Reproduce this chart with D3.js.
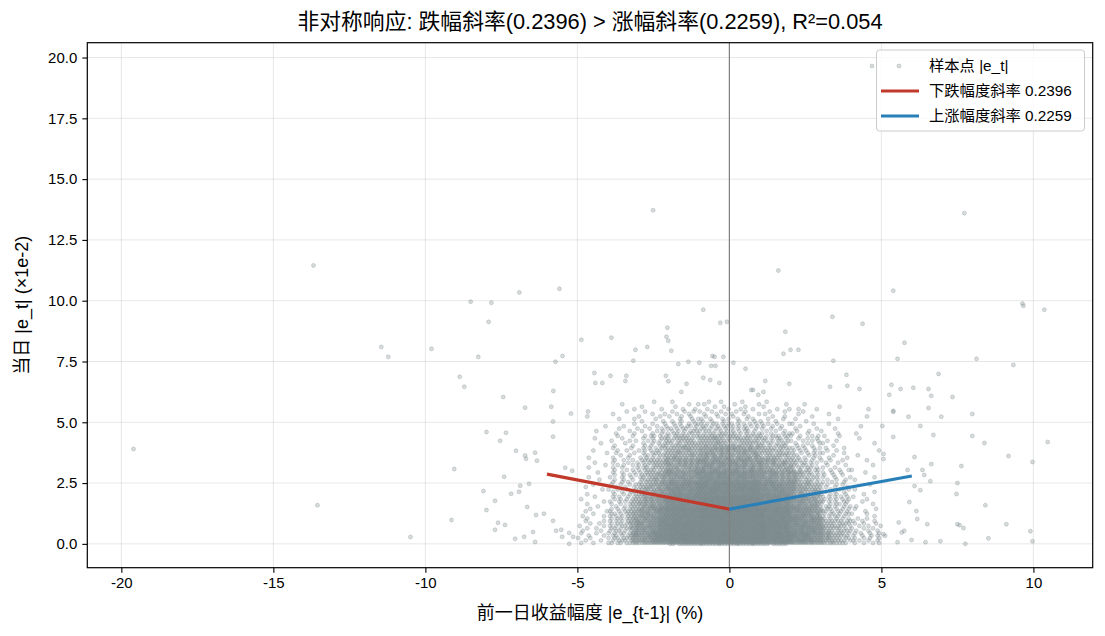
<!DOCTYPE html>
<html><head><meta charset="utf-8">
<script src="https://cdn.jsdelivr.net/npm/d3@7"></script>
<style>
body{margin:0;background:#fff}
svg{display:block}
text{font-family:"Liberation Sans",Arial,"Noto Sans CJK SC",sans-serif;fill:#000}
</style>
</head><body><svg id="c" width="1105" height="636"></svg>
<script>
// ---------- data ----------
const titleText = "非对称响应: 跌幅斜率(0.2396) > 涨幅斜率(0.2259), R²=0.054";
const xLabel = "前一日收益幅度 |e_{t-1}| (%)";
const yLabel = "当日 |e_t| (×1e-2)";
const xTicks = [-20, -15, -10, -5, 0, 5, 10];
const yTicks = [0, 2.5, 5, 7.5, 10, 12.5, 15, 17.5, 20];
const legendLabels = ["样本点 |e_t|", "下跌幅度斜率 0.2396", "上涨幅度斜率 0.2259"];
const downFit = [[-6, 2.87], [0, 1.43]];
const upFit = [[0, 1.43], [6, 2.79]];

// sparse points [x, y]
const outliers = [
[-13.68,11.45],[-8.51,9.96],[-7.83,9.92],[-7.92,9.13],[-11.45,8.10],[-11.22,7.69],[-9.80,8.02],[-8.26,7.69],[-8.87,6.87],[-8.72,6.46],[-7.99,4.60],[-19.6,3.90],[-9.05,3.08],[-8.09,2.17],[-13.55,1.59],[-7.99,1.39],[-9.14,0.98],[-10.49,0.28],
[-6.91,10.34],[-5.59,10.49],[-5.49,7.73],[-5.72,7.49],[-4.87,8.39],[-3.88,8.48],[-3.09,7.98],[-2.70,8.10],[-3.16,7.53],[-2.04,8.89],[-2.07,8.52],[-2.01,8.35],[-1.91,7.94],[-0.86,9.63],[-0.30,9.09],[-0.08,9.13],[-1.68,7.40],[-1.35,7.49],[-0.99,7.45],[-0.56,7.73],[-0.49,7.69],[-0.20,7.69],[-0.60,7.32],[-0.46,7.32],[0.13,7.45],[1.61,11.24],[3.39,9.34],[4.38,9.05],[1.84,8.72],[2.01,7.98],[2.27,7.98],[1.78,7.82],[3.42,7.53],[0.53,7.20],[-4.44,7.03],[-4.41,6.62],[-4.18,6.62],[-3.91,6.91],[-3.39,6.91],[-3.42,6.70],[-2.09,6.91],[-2.01,6.69],[-0.86,6.83],[-0.63,6.74],[-0.33,6.62],[-1.41,6.58],[-1.58,6.25],[-5.79,6.29],[-7.44,6.04],[3.85,6.95],[3.88,6.50],[3.31,6.46],[4.28,6.37],[1.18,6.70],[1.97,6.58],[0.72,6.33],[0.78,6.33],[0.95,6.13],[1.12,6.25],
[5.39,10.41],[9.64,9.88],[9.67,9.79],[10.36,9.63],[5.76,8.27],[5.53,7.61],[8.13,7.61],[9.34,7.36],[6.88,6.99],[5.33,6.54],[5.63,6.37],[6.05,6.42],[6.55,6.37],[6.64,6.09],[5.26,6.13],[7.34,6.04],[5.39,5.47],[5.39,5.43],[5.89,5.23],[6.55,5.59],[6.97,5.23],[7.99,5.34],[5.03,4.85],[6.28,4.85],[5.39,4.40],[6.71,4.48],[7.99,4.44],[8.39,4.15],[10.47,4.19],[9.18,3.61],[9.97,3.37],[6.09,3.57],[6.64,3.28],[7.63,3.20],[6.35,3.04],[6.41,2.83],[6.61,2.58],[7.50,2.50],[7.47,2.05],[6.28,2.21],[6.09,2.38],[5.92,1.72],[8.42,1.59],[6.15,1.35],[6.18,1.02],[6.51,0.81],[7.50,0.81],[7.57,0.77],[7.70,0.65],[9.11,0.81],[9.90,0.52],[8.52,0.23],[9.97,0.11],[7.76,0.0],[6.94,0.11],[6.45,0.07],[5.99,0.16],[5.53,0.07],[5.86,3.04],[5.07,3.70],[5.07,3.49],[5.57,0.88],[5.67,0.47],[5.75,0.54],[5.07,0.40],[5.12,0.33],
[-6.72,5.60],[-5.86,5.64],[-7.35,4.57],[-7.54,4.24],[-7.02,3.83],[-6.72,3.63],[-6.69,3.50],[-6.39,3.75],[-6.33,3.42],[-5.80,5.03],[-5.80,4.41],[-5.40,3.13],[-5.17,3.01],[-5.21,5.36],[-4.65,5.44],[-7.41,2.76],[-6.88,2.39],[-6.59,2.47],[-7.18,2.06],[-6.92,2.14],[-7.71,1.77],[-6.65,1.52],[-6.36,1.19],[-6.10,1.24],[-5.80,0.95],[-7.61,0.87],[-7.38,0.78],[-7.71,0.58],[-7.05,0.21],[-6.75,0.29],[-6.46,0.49],[-6.39,0.08],[-5.70,0.54],[-5.53,0.58],[-5.50,0.29],[-5.27,0.0],[-5.27,0.45],[-5.14,0.29],
[4.69,19.65],[-2.51,13.72],[7.73,13.60]
];

// dense core, read as point counts per 0.1 x 0.1 cell.
// Rows from top (y≈5.8) to bottom (y≈0); 10 blocks per row, block k covers x from -5+k to -4+k.
const coreGrid = [
"0000000000 0000000000 0000010000 0100000000 0001000100 0000100000 0010000000 0000000000 0000000000 0000000000",
"0000000000 0000100000 0000000000 0000001001 0100000000 0100000001 0000000010 0000100000 0000000000 0000000000",
"0000000000 0000000000 0100000000 0010000000 0000010010 0000010000 0100000000 0000000000 0000001000 0000000000",
"0000000000 0000000010 0000000100 0000100010 0010000001 0001000100 0000010001 0010000010 0000000000 0000010000",
"0000000000 0000001000 0010000000 0100010010 1000100100 0010010000 0001000010 0000100000 0000000000 0000000000",
"0000000000 0100000000 0000100010 0010001000 0100010010 1000100001 0100000000 0010000000 0010000000 0000000000",
"0001000000 0000000000 1000000100 1000100100 0010001000 0100001000 0000100010 0000000100 0000000000 0000010000",
"0000000000 0001000010 0000010000 0001000101 1001000101 0010010100 0010000100 0100000000 0000010000 0000000000",
"0000000000 0000000000 0100000010 0100100010 0100100010 0001000010 1000010000 0000010000 0000000000 0000000000",
"0000000000 0000000010 0000100010 0101001011 1010110101 1010101010 1010010001 1000000100 0010000000 0000000000",
"0000000001 0000010000 0010001001 0010101101 0110101011 0101010101 0100100100 0001000000 0000000000 0001000000",
"0000000000 0001000001 0001000101 1010110010 1101011010 1010110010 1001001000 0100000010 0000100000 0000000000",
"0000001000 0000000100 0100001010 0101010111 1011010101 0101011010 0010010010 0010001000 1000000000 0000000000",
"0000000000 0010000010 0000100101 0110101101 0101101110 1101010101 1001000101 1000010000 0000010000 0100000000",
"0000000000 0001000010 0010110101 1011111011 1111111111 1111011111 1010111011 1001000101 0100001000 0000000000",
"0000010000 0000100000 0100100111 0111111101 1111211101 1111111011 1101011010 0010010010 0000000000 0010000000",
"0000000000 0100000101 0001010101 1101111110 1111111111 1011111111 0110101101 1000100101 0010010000 0000000000",
"0000000100 0000010000 0100101011 1011011111 1111121110 1101111111 1011010110 0100010001 1000000000 0000000100",
"0000000000 0010000010 0010100111 0111111111 1111111111 1111111101 1101011110 0010100100 0000100000 0000000000",
"0000000000 0100000100 0101010111 1111211111 1211212121 2121112121 1111101111 1010100101 0100000100 0000000000",
"0000010000 0001001000 1010101101 1111112111 2112121212 1211212111 1111111101 0101010010 0010010000 0000000001",
"0000000001 0010000010 0100111011 1121111111 1212112121 1121211211 1111011111 1001010101 1000000100 0000000000",
"0000000000 0000100100 0011010111 1111111211 2121211211 2111211121 1011111111 0110001010 0000100000 0010000000",
"0001000000 0100001000 1010101011 1211111111 1211212121 1121121121 1111111011 1010100101 0010000010 0000000000",
"0000000000 0010010010 0111111112 1212121212 2221222122 2122222121 2121211111 1111010100 1001000100 0000010000",
"0000010000 0100001001 0101111121 1121212122 2212222212 2212212122 1212111211 1101101010 0100010000 0000000000",
"0000000001 0001010010 1011011112 2112121212 1222212222 2221221212 2111211211 1110110100 0010000010 0000000100",
"0001000000 0100100001 0110111111 1211212121 2222122212 1222212212 1211121112 1011011010 1000100000 0000000000",
"0000000000 0010001010 1011110112 2121112122 2212222122 2221212212 2112111121 1101011011 0001001001 1000000000",
"0000001000 0100100010 1011111122 2122212222 2322232232 2232222322 2222212122 2121111010 1001001000 0000100000",
"0000000000 0010010101 0111112122 2221222122 3222322322 2322232222 2212221212 1211101101 0100100100 0000000000",
"0001000000 1000100100 1101111212 1222212222 2232223232 2223222322 2122212121 2111110110 1000100001 0000000100",
"0000000100 0010010010 0111121121 2212222212 2322322322 3222232222 2222121212 1211011101 0010010010 0100000000",
"0000000000 0100101000 1011111212 2221222222 2232232232 2232222232 1222212122 2111111010 1001000100 0000000000",
"0000010000 0100100101 1111121222 2322232323 3333233333 3323333333 3232322222 2211121111 1010010100 0000001000",
"0010000000 0010010010 1112112122 2232323223 3332333333 3333332333 2322323222 2121111111 0100100010 0000000000",
"0000000010 1001001001 1121112122 3223232232 3333333323 3233333333 3232232222 2211211111 1001001001 0100000000",
"0000000000 0100100110 1111212212 2323222323 3323333333 3333323333 2322232322 2121111211 0100100100 0000000100",
"0001000000 0010010101 1211121222 2232322323 3333333233 3332333333 3223222322 2112111111 1001010010 0000100000",
"0000010000 0101001011 1212122222 3233333233 3434343434 4343434343 3332333233 2222212121 1010101010 1000000000",
"0100000000 0010101011 1121212223 2333323333 4343434343 3434343434 3323333323 2212221211 0101010101 0000010000",
"0000000010 1001010111 1212121223 3323333332 3434343434 4343434343 3233323333 2222121212 1010100110 0001000000",
"0001000000 0100100111 2121212222 3332333323 4343434343 3434343434 3333233323 2122212121 1001011010 0000000100",
"0000001000 0010010111 1212212123 2333333233 3434343434 4343434343 2333333233 2221212211 0110100101 0100000000",
"0000100000 0101010111 1212222233 3333433334 4443444444 4444444344 3433343333 2322222121 1011010101 0100000010",
"0010000001 1001011112 2121222323 3343333433 4444443444 4344444444 3333433343 2232222212 1101011010 0000100000",
"0000010000 0110101121 1222122323 3433343333 4434444444 4444434444 4333334333 3222222122 0101101011 1000010000",
"0100000010 1010101112 2122212233 3334333343 4444444434 4443444444 3343333334 2222322121 1010110100 0000000100",
"0001000000 0101101121 1221222323 3343334333 3444444444 4444444443 3334333433 2232212222 1101010101 0010010000",
"0010000010 1010101122 1222222333 3434344434 4444454444 4444444544 4343443433 3323222322 1111111011 1001000100",
"0000100100 0101101212 2212222333 4343444343 4544444444 4444544444 3434344343 3232232222 1111101111 0100100010",
"1000000010 1010110122 2122222333 3434443434 4444444454 5444444444 4434343433 2332322222 1111111101 0010010001",
"0001001000 0110101212 1222222333 4343434443 4444544444 4444445444 3443434343 3222323222 2111111010 1000100100",
"0100000100 1011010122 2212222333 3444343434 4454444444 4444444454 4343443343 2323222322 1111011111 0100010010",
"0100001000 1010110122 1222233333 4343444444 4445444454 4454444445 4444344434 3332323232 2121111101 0101001001",
"0001000010 0110101222 2122233333 4434444434 5444445444 4444544454 4434444344 3323332222 1211111110 1001001010",
"1000100000 1011011122 1222323333 3444444344 4454444544 4544444544 4443444434 3332233222 2121111011 0100101001",
"0010000100 0101110212 2212233333 4443444443 4444544454 5444454444 3444434444 3233323222 1211111101 1010010010",
"0100010000 1101101122 1222233333 4434444444 4544444544 4445444454 4443444443 3323332322 2112111110 0100100101"
];

// ---------- build point list ----------
// alternate rows sit half a cell apart; several points in one cell are spread inside it
const cellSpread = [[0, 0], [0.05, 0.03], [-0.03, 0.05], [0.03, -0.05], [-0.05, -0.02], [0.01, 0.02]];
const points = outliers.map(d => ({x: d[0], y: d[1]}));
coreGrid.forEach((row, i) => {
  const r = coreGrid.length - 1 - i;
  const yv = 0.04 + 0.1 * r;
  const shift = (r % 2) * 0.05 - 0.025;
  row.trim().split(/\s+/).forEach((block, k) => {
    for (let j = 0; j < block.length; j++) {
      const n = +block[j];
      const xv = -5 + k + 0.05 + 0.1 * j + shift;
      for (let m = 0; m < n; m++) {
        const o = cellSpread[m % cellSpread.length];
        points.push({x: xv + o[0], y: Math.max(0, yv + o[1])});
      }
    }
  });
});

// ---------- chart ----------
const svg = d3.select("#c");
const L = 87.3, R = 1092.7, T = 42.7, B = 567.7;
const x = d3.scaleLinear().domain([-21.12, 11.95]).range([L, R]);
const y = d3.scaleLinear().domain([-0.98, 20.61]).range([B, T]);
const ptColor = "#7f8c8d";

svg.append("rect").attr("width", 1105).attr("height", 636).attr("fill", "#fff");

// grid
const grid = svg.append("g");
grid.selectAll(".gx").data(xTicks).enter().append("line")
  .attr("x1", d => x(d)).attr("x2", d => x(d)).attr("y1", T).attr("y2", B)
  .attr("stroke", "#b0b0b0").attr("stroke-opacity", 0.3).attr("stroke-width", 1);
grid.selectAll(".gy").data(yTicks).enter().append("line")
  .attr("y1", d => y(d)).attr("y2", d => y(d)).attr("x1", L).attr("x2", R)
  .attr("stroke", "#b0b0b0").attr("stroke-opacity", 0.3).attr("stroke-width", 1);

// points
svg.append("clipPath").attr("id", "clip").append("rect")
  .attr("x", L).attr("y", T).attr("width", R - L).attr("height", B - T);
svg.append("g").attr("clip-path", "url(#clip)")
  .selectAll("circle").data(points).enter().append("circle")
  .attr("cx", d => x(d.x)).attr("cy", d => y(d.y)).attr("r", 2)
  .attr("fill", ptColor).attr("fill-opacity", 0.3)
  .attr("stroke", ptColor).attr("stroke-opacity", 0.3).attr("stroke-width", 1);

// vertical zero line
svg.append("line").attr("x1", x(0)).attr("x2", x(0)).attr("y1", T).attr("y2", B)
  .attr("stroke", "#808080").attr("stroke-width", 1.2);

// fit lines
const line = d3.line().x(d => x(d[0])).y(d => y(d[1]));
svg.append("path").datum(downFit).attr("d", line).attr("fill", "none")
  .attr("stroke", "#c0392b").attr("stroke-width", 3.2);
svg.append("path").datum(upFit).attr("d", line).attr("fill", "none")
  .attr("stroke", "#2980b9").attr("stroke-width", 3.2);

// axes
const fmtX = d => String(d);
const fmtY = d => d.toFixed(1);
const ax = svg.append("g").attr("transform", `translate(0,${B})`)
  .call(d3.axisBottom(x).tickValues(xTicks).tickFormat(fmtX).tickSize(5).tickPadding(5));
const ay = svg.append("g").attr("transform", `translate(${L},0)`)
  .call(d3.axisLeft(y).tickValues(yTicks).tickFormat(fmtY).tickSize(5).tickPadding(5));
[ax, ay].forEach(g => {
  g.select(".domain").remove();
  g.selectAll(".tick line").attr("stroke", "#000").attr("stroke-width", 1.1);
  g.selectAll(".tick text").attr("font-size", 15).attr("fill", "#000")
    .style("font-family", '"Liberation Sans", Arial, sans-serif');
});

// spines
svg.append("rect").attr("x", L).attr("y", T).attr("width", R - L).attr("height", B - T)
  .attr("fill", "none").attr("stroke", "#000").attr("stroke-width", 1.2);

// title & labels
svg.append("text").attr("x", (L + R) / 2).attr("y", 29).attr("text-anchor", "middle")
  .attr("font-size", 21.8).text(titleText);
svg.append("text").attr("x", (L + R) / 2).attr("y", 619).attr("text-anchor", "middle")
  .attr("font-size", 18).text(xLabel);
svg.append("text").attr("transform", `translate(28,${(T + B) / 2}) rotate(-90)`)
  .attr("text-anchor", "middle").attr("font-size", 18).text(yLabel);

// legend
const lg = svg.append("g");
lg.append("rect").attr("x", 876.5).attr("y", 50).attr("width", 208).attr("height", 81)
  .attr("rx", 3).attr("fill", "#fff").attr("fill-opacity", 0.8)
  .attr("stroke", "#cccccc").attr("stroke-width", 1);
const rowsY = [66, 91, 116];
lg.append("circle").attr("cx", 899).attr("cy", rowsY[0]).attr("r", 2)
  .attr("fill", ptColor).attr("fill-opacity", 0.3)
  .attr("stroke", ptColor).attr("stroke-opacity", 0.3).attr("stroke-width", 1);
lg.append("line").attr("x1", 881).attr("x2", 919).attr("y1", rowsY[1]).attr("y2", rowsY[1])
  .attr("stroke", "#c0392b").attr("stroke-width", 3.2);
lg.append("line").attr("x1", 881).attr("x2", 919).attr("y1", rowsY[2]).attr("y2", rowsY[2])
  .attr("stroke", "#2980b9").attr("stroke-width", 3.2);
legendLabels.forEach((t, i) => {
  lg.append("text").attr("x", 929).attr("y", rowsY[i] + 5.3).attr("font-size", 15.3).text(t);
});
</script>
</body></html>
